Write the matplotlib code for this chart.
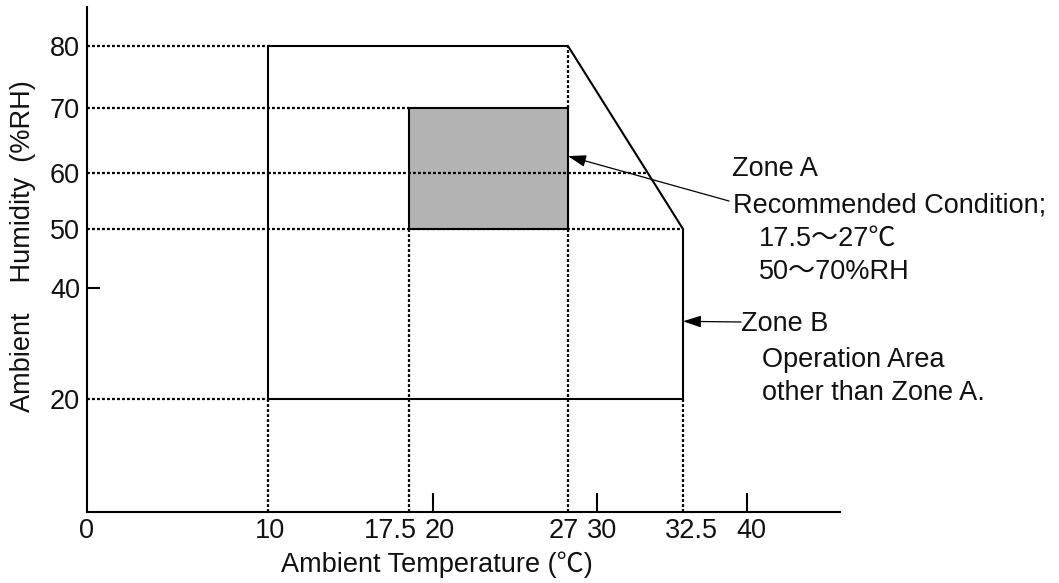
import numpy as np
import matplotlib.pyplot as plt
from matplotlib.transforms import ScaledTranslation

W, H = 1059, 583
plt.rcParams['font.family'] = ['Liberation Sans', 'Noto Sans CJK JP', 'DejaVu Sans']
FS = 19.5
plt.rcParams['font.size'] = FS

# --- DATA ---
TEMP_TICKS = [0, 10, 17.5, 20, 27, 30, 32.5, 40]
TEMP_TICK_LABELS = ['0', '10', '17.5', '20', '27', '30', '32.5', '40']
TEMP_MARKED = [20, 30, 40]          # only these get a tick mark
HUM_TICKS = [20, 40, 50, 60, 70, 80]
HUM_MARKED = [40]

# Zone B: operation area outline
ZONE_B_TEMP = [10, 10, 27, 32.5, 32.5, 10]
ZONE_B_HUM = [20, 80, 80, 50, 20, 20]
# Zone A: recommended condition
ZONE_A_TEMP = [17.5, 27, 27, 17.5]
ZONE_A_HUM = [50, 50, 70, 70]

# --- SCHEMATIC SCALE (drawing is not to scale) ---
X_KNOTS = [0, 10, 17.5, 20, 27, 30, 32.5, 40, 48]
X_PIX = [87, 268, 409, 433, 568, 597, 683, 747, 840]
Y_KNOTS = [0, 20, 40, 50, 60, 70, 80, 85]
Y_PIX = [512, 399, 288, 229, 173, 108, 46, 7]
NEG_Y_PIX = [-p for p in Y_PIX]

# horizontal nudges (px) for crowded x tick labels
X_LABEL_NUDGE = [0, 2, -19, 7, -4, 5, 8, 4]

LW = 1.5
DOT_LW = 1.6
DOT = (0, (1.3, 0.95))
INK = '#111111'


def px(x, y):
    return x / W, 1 - y / H


fig = plt.figure(figsize=(W / 100, H / 100), dpi=100)
ax = fig.add_axes([87 / W, (H - 512) / H, (840 - 87) / W, (512 - 7) / H])

ax.set_xscale('function', functions=(lambda v: np.interp(v, X_KNOTS, X_PIX),
                                     lambda p: np.interp(p, X_PIX, X_KNOTS)))
ax.set_yscale('function', functions=(lambda v: np.interp(v, Y_KNOTS, NEG_Y_PIX),
                                     lambda p: np.interp(p, NEG_Y_PIX, Y_KNOTS)))
ax.set_xlim(X_KNOTS[0], X_KNOTS[-1])
ax.set_ylim(Y_KNOTS[0], Y_KNOTS[-1])

# zone A (grey box)
ax.fill(ZONE_A_TEMP, ZONE_A_HUM, facecolor='#b3b3b3', edgecolor='black', lw=LW, zorder=2)

# dotted guide lines
t_a0, t_a1 = min(ZONE_A_TEMP), max(ZONE_A_TEMP)
h_a0, h_a1 = min(ZONE_A_HUM), max(ZONE_A_HUM)
t_b0, t_b1 = min(ZONE_B_TEMP), max(ZONE_B_TEMP)
h_b0, h_b1 = min(ZONE_B_HUM), max(ZONE_B_HUM)
guide = dict(colors='black', linestyles=DOT, lw=DOT_LW, zorder=1)
ax.hlines([h_b1, h_b0], 0, t_b0, **guide)
ax.hlines(h_a1, 0, t_a0, **guide)
ax.hlines(h_a0, 0, t_b1, **guide)
ax.vlines(t_b0, 0, h_b0, **guide)
ax.vlines(t_a0, 0, h_a0, **guide)
ax.vlines(t_a1, 0, h_a0, **guide)
ax.vlines(t_a1, h_a1, h_b1, **guide)
ax.vlines(t_b1, 0, h_b0, **guide)

# 60 %RH guide runs across zone A up to the sloped edge
ax.hlines(60, 0, t_b0, colors='black', linestyles=DOT, lw=DOT_LW, zorder=3)
mid = ax.hlines(60, t_b0, 40, colors='black', linestyles=DOT, lw=DOT_LW, zorder=3)
clip = plt.Polygon(list(zip(ZONE_B_TEMP, ZONE_B_HUM)), closed=True,
                   transform=ax.transData, fill=False, edgecolor='none')
ax.add_patch(clip)
mid.set_clip_path(clip)

# zone B outline
ax.plot(ZONE_B_TEMP, ZONE_B_HUM, color='black', lw=LW, solid_joinstyle='miter', zorder=4)

# axes
for s in ['top', 'right']:
    ax.spines[s].set_visible(False)
for s in ['left', 'bottom']:
    ax.spines[s].set_linewidth(LW)

ax.set_xticks(TEMP_TICKS, TEMP_TICK_LABELS)
ax.set_yticks(HUM_TICKS, [str(v) for v in HUM_TICKS])
ax.minorticks_off()
ax.tick_params(axis='x', direction='in', length=14, width=LW, pad=4, labelsize=FS,
               labelcolor=INK)
ax.tick_params(axis='y', direction='in', length=9, width=LW, pad=5, labelsize=FS,
               labelcolor=INK)
for val, tk in zip(TEMP_TICKS, ax.xaxis.get_major_ticks()):
    tk.tick1line.set_visible(val in TEMP_MARKED)
for val, tk in zip(HUM_TICKS, ax.yaxis.get_major_ticks()):
    tk.tick1line.set_visible(val in HUM_MARKED)
for dx, lab in zip(X_LABEL_NUDGE, ax.get_xticklabels()):
    lab.set_transform(lab.get_transform() + ScaledTranslation(dx / 100, 0, fig.dpi_scale_trans))

# axis titles
fig.text(*px(437, 572), 'Ambient Temperature (℃)', ha='center', va='baseline', color=INK)
fig.text(*px(23, 246), 'Ambient    Humidity  (%RH)', ha='center', va='center',
         rotation=90, color=INK)

# callouts
arrow = dict(arrowstyle='-|>,head_length=0.55,head_width=0.18', mutation_scale=20,
             lw=0.9, color='black', shrinkA=0, shrinkB=0)
ax.annotate('', xy=(t_a1, 62.6), xycoords='data',
            xytext=px(729, 201), textcoords='figure fraction', arrowprops=arrow)
ax.annotate('', xy=(t_b1, 34), xycoords='data',
            xytext=px(741, 322), textcoords='figure fraction', arrowprops=arrow)

fig.text(*px(732, 176), 'Zone A', va='baseline', color=INK)
fig.text(*px(733, 213), 'Recommended Condition;', va='baseline', color=INK)
fig.text(*px(759, 246), '17.5～27℃', va='baseline', color=INK)
fig.text(*px(759, 279), '50～70%RH', va='baseline', color=INK)
fig.text(*px(741, 331), 'Zone B', va='baseline', color=INK)
fig.text(*px(762, 367), 'Operation Area', va='baseline', color=INK)
fig.text(*px(762, 400), 'other than Zone A.', va='baseline', color=INK)

fig.savefig('out.png', dpi=100)
